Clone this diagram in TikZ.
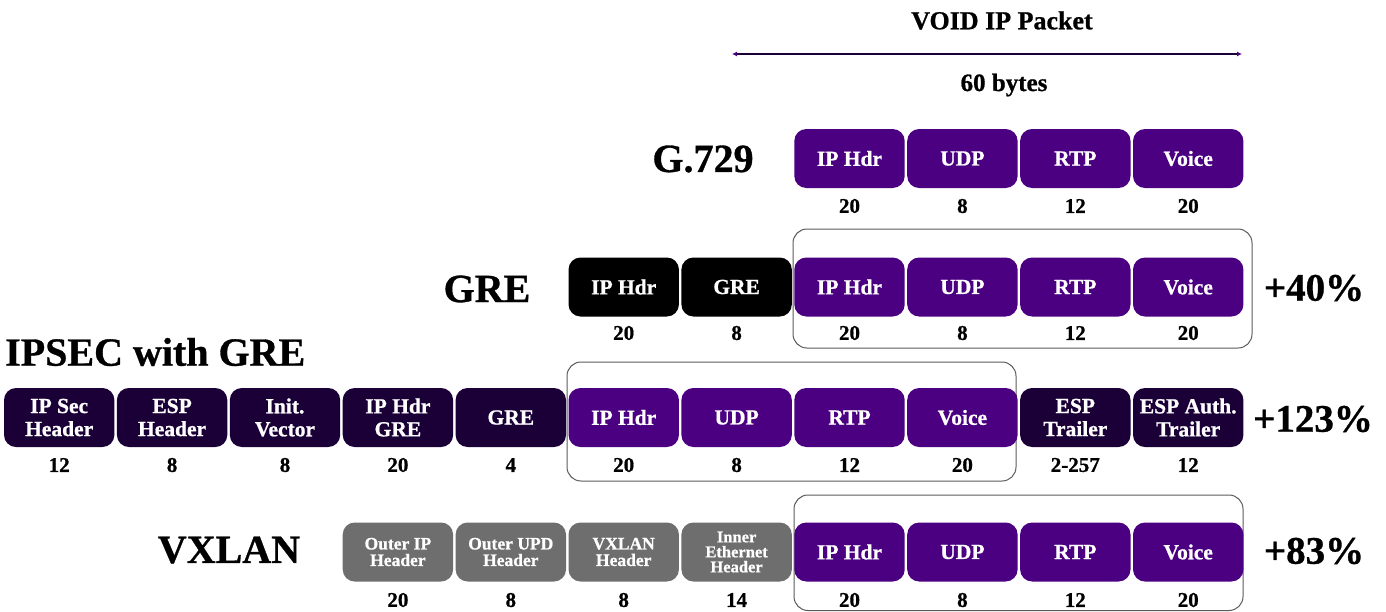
\documentclass[tikz,border=0pt]{standalone}
\usepackage{fontspec}
\setmainfont{Liberation Serif}[BoldFeatures={FakeBold=0.8}]
\usetikzlibrary{arrows.meta}
\definecolor{vpurple}{HTML}{4B0082}
\definecolor{vdark}{HTML}{1B0038}
\definecolor{vgrey}{HTML}{6E6E6E}
\definecolor{vline}{HTML}{5A5A5A}
\begin{document}
\begin{tikzpicture}[x=1pt,y=-1pt,
 pkt/.style={rounded corners=12pt, minimum width=110.4pt, minimum height=59pt, inner sep=0pt, text=white, align=center, font=\bfseries\fontsize{21.5}{23}\selectfont},
 pur/.style={pkt,fill=vpurple},
 dk/.style={pkt,fill=vdark},
 blk/.style={pkt,fill=black},
 gry/.style={pkt,fill=vgrey,font=\bfseries\fontsize{17.5}{16.5}\selectfont},
 num/.style={inner sep=0pt, font=\bfseries\fontsize{21}{22}\selectfont},
 big/.style={inner sep=0pt, font=\bfseries\fontsize{40}{42}\selectfont},
 pct/.style={inner sep=0pt, font=\bfseries\fontsize{39}{40}\selectfont},
 frame/.style={draw=vline, line width=1pt, rounded corners=14pt},
]
\useasboundingbox (0,0) rectangle (1386,611);

% header
\node[anchor=base, inner sep=0pt, font=\bfseries\fontsize{26}{28}\selectfont] (title) at (1002,29.3) {VOID IP Packet};
\node[anchor=base, inner sep=0pt, font=\bfseries\fontsize{25}{27}\selectfont] (bytes) at (1004,91) {60 bytes};
\coordinate (aL) at (732,54);
\coordinate (aR) at (1242,54);
\draw[{Latex[length=5pt,width=5pt,color=vpurple]}-{Latex[length=5pt,width=5pt,color=vpurple]}, line width=1.2pt, draw=vdark] (aL) -- (aR);

% frames
\draw[frame] (793,229) rectangle (1252,348);
\draw[frame] (567,362) rectangle (1016,481);
\draw[frame] (794,495) rectangle (1243,610.5);

% labels
\node[big] (lg729) at (703,159) {G.729};
\node[big] (lgre) at (487,289) {GRE};
\node[big, anchor=west] (lipsec) at (5,352) {IPSEC with GRE};
\node[big] (lvx) at (229,550) {VXLAN};
\node[pct] (p40) at (1314,288) {+40\%};
\node[pct] (p123) at (1313,419) {+123\%};
\node[pct] (p83) at (1314,551) {+83\%};

% G.729 row
\foreach \i/\t/\n in {7/IP Hdr/20, 8/UDP/8, 9/RTP/12, 10/Voice/20}{
  \node[pur] (a\i) at ({59.2+112.9*\i},158.5) {\t};
  \node[num] (an\i) at ({59.2+112.9*\i},206) {\n};
}

% GRE row
\foreach \i/\t/\n in {5/IP Hdr/20, 6/GRE/8}{
  \node[blk] (b\i) at ({59.2+112.9*\i},287) {\t};
  \node[num] (bn\i) at ({59.2+112.9*\i},333) {\n};
}
\foreach \i/\t/\n in {7/IP Hdr/20, 8/UDP/8, 9/RTP/12, 10/Voice/20}{
  \node[pur] (b\i) at ({59.2+112.9*\i},287) {\t};
  \node[num] (bn\i) at ({59.2+112.9*\i},333) {\n};
}

% IPSEC row
\foreach \i/\t/\n in {0/{IP Sec\\Header}/12, 1/{ESP\\Header}/8, 2/{Init.\\Vector}/8, 3/{IP Hdr\\GRE}/20, 4/GRE/4, 9/{ESP\\Trailer}/2-257, 10/{ESP Auth.\\Trailer}/12}{
  \node[dk] (c\i) at ({59.2+112.9*\i},417.5) {\t};
  \node[num] (cn\i) at ({59.2+112.9*\i},465) {\n};
}
\foreach \i/\t/\n in {5/IP Hdr/20, 6/UDP/8, 7/RTP/12, 8/Voice/20}{
  \node[pur] (c\i) at ({59.2+112.9*\i},417.5) {\t};
  \node[num] (cn\i) at ({59.2+112.9*\i},465) {\n};
}

% VXLAN row
\foreach \i/\t/\n in {3/{Outer IP\\Header}/20, 4/{Outer UPD\\Header}/8, 5/{VXLAN\\Header}/8}{
  \node[gry] (d\i) at ({59.2+112.9*\i},552) {\t};
  \node[num] (dn\i) at ({59.2+112.9*\i},600) {\n};
}
\node[gry, font=\bfseries\fontsize{16.5}{15}\selectfont] (d6) at ({59.2+112.9*6},552) {Inner\\Ethernet\\Header};
\node[num] (dn6) at ({59.2+112.9*6},600) {14};
\foreach \i/\t/\n in {7/IP Hdr/20, 8/UDP/8, 9/RTP/12, 10/Voice/20}{
  \node[pur] (d\i) at ({59.2+112.9*\i},552) {\t};
  \node[num] (dn\i) at ({59.2+112.9*\i},600) {\n};
}
\end{tikzpicture}
\end{document}
